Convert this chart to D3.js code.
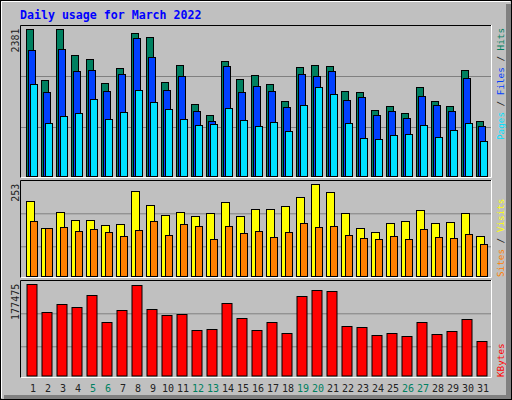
<!DOCTYPE html>
<html><head><meta charset="utf-8">
<script src="https://cdn.jsdelivr.net/npm/d3@7"></script>
<style>body{margin:0;background:#fff}svg{display:block}text{font-family:"DejaVu Sans Mono",monospace}</style>
</head><body><div id="chart"></div>
<script>
var days = d3.range(1, 32);
var weekend = [5, 6, 12, 13, 19, 20, 26, 27];
var hits  = [2381,1550,2375,1955,1890,1501,1744,2311,2247,1518,1793,1161,983,1858,1566,1641,1485,1210,1761,1793,1777,1372,1356,1064,1129,1016,1437,1210,1129,1712,886];
var files = [2036,1356,2052,1701,1712,1372,1647,2230,1923,1388,1615,1048,886,1777,1356,1453,1372,1113,1647,1615,1696,1226,1275,983,1048,935,1291,1145,1048,1582,805];
var pages = [1485,854,967,1016,1242,918,1032,1388,1194,1080,918,821,837,1097,902,805,870,724,1145,1437,1323,854,611,594,659,675,821,627,740,854,562];
var visits = [206,132,176,154,154,140,143,234,195,167,176,165,173,203,165,184,184,192,217,253,231,173,132,121,145,151,181,145,148,173,110];
var sites  = [151,132,134,123,129,121,110,126,151,112,143,137,101,137,118,123,107,121,145,134,137,112,104,101,110,101,129,107,104,115,87];
var kbytes = [177475,122870,138470,132620,156020,103370,126770,177000,128720,117020,118970,87760,89710,140420,111170,87760,103370,81910,154070,165770,163820,95560,93610,78010,81910,76060,103370,79960,85810,109220,66310];

var W = 512, H = 400;
var svg = d3.select("#chart").append("svg").attr("width", W).attr("height", H);

// outer bevelled frame
svg.append("rect").attr("width", W).attr("height", H).attr("fill", "#c0c0c0");
svg.append("rect").attr("x", 0.5).attr("y", 0.5).attr("width", W-1).attr("height", H-1).attr("fill", "none").attr("stroke", "#000");
svg.append("path").attr("d", "M1.5,398 V1.5 H510").attr("stroke", "#fff").attr("stroke-width", 1).attr("fill", "none");
svg.append("rect").attr("x", 506).attr("y", 4).attr("width", 5).attr("height", 395).attr("fill", "#808080");
svg.append("rect").attr("x", 4).attr("y", 395).attr("width", 507).attr("height", 4).attr("fill", "#808080");

svg.append("text").attr("x", 20).attr("y", 19).attr("fill", "#0000ff")
  .attr("font-size", 11.6).attr("font-weight", "bold").text("Daily usage for March 2022");

var x = d3.scaleLinear().domain([1, 31]).range([26, 476]);

var panels = [
  {top: 25, bot: 178, y0: 176, ymax: 29, max: 2381, grid: [127, 76]},
  {top: 180, bot: 278, y0: 276, ymax: 184.3, max: 253, grid: [246.3, 213.3]},
  {top: 280, bot: 378, y0: 375.5, ymax: 284.3, max: 177475, grid: [346.3, 313.3]}
];

panels.forEach(function(p) {
  svg.append("path").attr("d", "M20.5," + p.bot + " V" + (p.top + 0.5) + " H491").attr("stroke", "#000").attr("fill", "none");
  svg.append("path").attr("d", "M20.5," + (p.bot - 0.5) + " H491.5 V" + p.top).attr("stroke", "#fff").attr("fill", "none");
  p.grid.forEach(function(g) {
    svg.append("line").attr("x1", 21).attr("x2", 491).attr("y1", g + 0.5).attr("y2", g + 0.5).attr("stroke", "#808080");
  });
  p.y = d3.scaleLinear().domain([0, p.max]).range([p.y0, p.ymax]);
  svg.append("text").attr("transform", "translate(19," + (p.ymax - 0.5) + ") rotate(-90)")
    .attr("text-anchor", "end").attr("font-size", 10).attr("fill", "#222").text(p.max);
});

function bars(vals, y, off, w, color) {
  svg.append("g").selectAll("rect").data(vals).join("rect")
    .attr("x", function(d, i) { return x(days[i]) + off + 0.5; })
    .attr("y", function(d) { return Math.round(y(d)) + 0.5; })
    .attr("width", w)
    .attr("height", function(d) { return y(0) - Math.round(y(d)); })
    .attr("fill", color).attr("stroke", "#000").attr("stroke-width", 1);
}
bars(hits, panels[0].y, 0, 7, "#008060");
bars(files, panels[0].y, 2, 7, "#0040ff");
bars(pages, panels[0].y, 4, 7, "#00e0ff");
bars(visits, panels[1].y, 0, 8, "#ffff00");
bars(sites, panels[1].y, 4, 7, "#ff8000");
bars(kbytes, panels[2].y, 0.5, 10, "#ff0000");

svg.append("g").selectAll("text").data(days).join("text")
  .attr("x", function(d) { return x(d) + 7; }).attr("y", 392)
  .attr("text-anchor", "middle").attr("font-size", 10)
  .attr("fill", function(d) { return weekend.indexOf(d) >= 0 ? "#008060" : "#222"; })
  .text(function(d) { return d; });

function sideLabel(y, anchor, parts) {
  var t = svg.append("text").attr("transform", "translate(504," + y + ") rotate(-90)")
    .attr("text-anchor", anchor).attr("font-size", 9.3);
  parts.forEach(function(s) { t.append("tspan").attr("fill", s[1]).text(s[0]); });
}
sideLabel(28, "end", [["Pages", "#00e0ff"], [" / ", "#222"], ["Files", "#0040ff"], [" / ", "#222"], ["Hits", "#008060"]]);
sideLabel(277, "start", [["Sites", "#ff8000"], [" / ", "#222"], ["Visits", "#ffff00"]]);
sideLabel(377, "start", [["KBytes", "#ff0000"]]);
</script>
</body></html>
